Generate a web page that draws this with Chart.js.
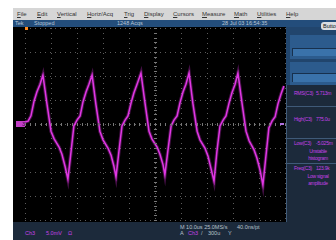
<!DOCTYPE html>
<html>
<head>
<meta charset="utf-8">
<script src="https://cdn.jsdelivr.net/npm/chart.js@4"></script>
<style>
  body { margin: 0; width: 336px; height: 240px; background: #fff; position: relative; overflow: hidden;
         font-family: "Liberation Sans", Arial, sans-serif; }
  .abs { position: absolute; white-space: nowrap; }
  #menu { left: 13px; top: 8px; width: 323px; height: 12px; background: #d6d6d6; }
  #menu span { position: absolute; top: 3px; font-size: 6px; color: #333; }
  #status { left: 13px; top: 20px; width: 323px; height: 7px; background: #234d7b; }
  #status span { position: absolute; top: 0px; font-size: 5.5px; line-height: 7px; color: #b8c6d6; }
  #screen { left: 13px; top: 27px; width: 273px; height: 195px; background: #000; }
  #side { left: 286px; top: 27px; width: 50px; height: 195px; background: #1c2a3b; }
  #bottom { left: 13px; top: 222px; width: 323px; height: 18px; background: #1c2a3b; }
  .mz { color: #c541e6; font-size: 5.5px; }
  .wt { color: #b8c2cc; font-size: 5.5px; }
  #meas .mz { font-size: 5px; letter-spacing: -0.25px; }
</style>
</head>
<body>
<script>
// Ch3 trace: time in us (10 us/div), level in mV (5 mV/div)
const timeUs = [
  0.0, 1.2, 2.3, 3.5, 4.6, 5.8, 6.9, 8.5, 10.0, 11.2, 13.1, 14.2, 15.4, 16.5,
  17.7, 18.8, 20.0, 21.2, 22.3, 23.5, 24.6, 25.8, 27.3, 28.8, 30.0, 31.9, 33.1, 34.2, 35.0,
  36.2, 37.3, 38.5, 39.6, 40.8, 41.9, 43.1, 44.6, 46.2, 47.7, 48.8, 50.8, 51.9, 53.1, 53.8,
  55.0, 56.2, 57.3, 58.5, 59.6, 60.8, 61.9, 63.1, 64.6, 66.2, 67.3, 69.2, 70.4, 71.5, 72.7,
  73.8, 75.0, 76.2, 77.3, 78.5, 79.6, 80.8, 81.9, 83.5, 85.0, 86.2, 88.1, 89.2, 90.4, 91.5,
  92.7, 93.8, 95.0, 96.2, 97.3, 98.5, 99.6
];
const ch3mV = [
  0.4, 0.6, 1.7, 4.8, 6.7, 8.3, 10.2, 4.0, -1.5, -3.1, -4.8, -6.3, -8.8, -11.5,
  -5.8, -0.4, 0.8, 1.7, 4.6, 6.7, 8.3, 10.2, 4.0, -1.5, -3.3, -5.0, -6.5, -8.8, -11.0,
  -5.4, -0.4, 0.8, 1.7, 4.4, 6.5, 8.3, 10.6, 4.2, -1.5, -3.1, -4.8, -6.3, -8.5, -10.6,
  -5.4, -0.4, 0.8, 1.7, 4.4, 6.7, 8.3, 10.6, 4.2, -1.5, -3.3, -5.0, -6.7, -9.2, -11.9,
  -5.8, -0.4, 0.8, 1.7, 4.4, 6.5, 8.3, 10.6, 4.2, -1.5, -3.5, -5.4, -7.1, -9.6, -12.7,
  -6.5, -0.8, 0.6, 1.5, 4.2, 6.3, 7.9
];
const menuItems = ["File", "Edit", "Vertical", "Horiz/Acq", "Trig", "Display", "Cursors", "Measure", "Math", "Utilities", "Help"];
const menuX = [17, 37, 57, 87, 124, 144, 173, 202, 234, 257, 286];
const measLabels = ["RMS(C3)", "High(C3)", "Low(C3)", "Freq(C3)"];
const measValues = ["5.713m", "775.0u", "-5.025m", "123.9k"];

const X_DIV = 10, Y_DIV = 5;
</script>

<div id="menu" class="abs"></div>
<div id="status" class="abs">
  <span style="left:2px">Tek</span>
  <span style="left:21px">Stopped</span>
  <span style="left:104px">1248 Acqs</span>
  <span style="left:209px">28 Jul 03 16:54:35</span>
</div>
<div id="screen" class="abs"><canvas id="scope" width="273" height="195"></canvas></div>
<div id="side" class="abs">
  <div class="abs" style="left:0;top:0;width:50px;height:58px;background:#21456d"></div>
  <div class="abs" style="left:4px;top:8px;width:46px;height:24px;background:#2c5b8d"></div>
  <div class="abs" style="left:6px;top:21px;width:44px;height:8px;background:#3a72aa;box-shadow:inset 1px 1px 0 #17304d"></div>
  <div class="abs" style="left:4px;top:35px;width:46px;height:23px;background:#2c5b8d"></div>
  <div class="abs" style="left:6px;top:46px;width:44px;height:9px;background:#3a72aa;box-shadow:inset 1px 1px 0 #17304d"></div>
  <div class="abs" style="left:0;top:58px;width:1px;height:137px;background:#3f5a78"></div>
  <div class="abs" style="left:0;top:79px;width:50px;height:1px;background:#3f5a78"></div>
  <div class="abs" style="left:0;top:111px;width:50px;height:1px;background:#3f5a78"></div>
  <div class="abs" style="left:0;top:136px;width:50px;height:1px;background:#3f5a78"></div>
  <div id="meas"></div>
</div>
<div class="abs" style="left:321px;top:22px;width:20px;height:8px;border-radius:3px;background:#d9dde2;font-size:5.5px;line-height:8px;color:#111;padding-left:2px">Butto</div>
<div id="bottom" class="abs">
  <span class="abs mz" style="left:12px;top:8px">Ch3</span>
  <span class="abs mz" style="left:33px;top:8px">5.0mV</span>
  <span class="abs mz" style="left:55px;top:8px">&#937;</span>
  <span class="abs wt" style="left:167px;top:2px">M 10.0us 25.0MS/s</span>
  <span class="abs wt" style="left:224px;top:2px">40.0ns/pt</span>
  <span class="abs wt" style="left:167px;top:8px">A</span>
  <span class="abs mz" style="left:175px;top:8px">Ch3</span>
  <span class="abs wt" style="left:188px;top:8px">/</span>
  <span class="abs wt" style="left:195px;top:8px">300u</span>
  <span class="abs wt" style="left:215px;top:8px">Y</span>
</div>
<div class="abs" style="left:25px;top:27px;width:3px;height:3px;background:#ff8a20"></div>
<div class="abs" style="left:16px;top:121px;width:9px;height:6px;background:#c23ec6;font-size:5px;line-height:6px;color:#300030;text-align:right">3</div>
<div class="abs" style="left:280px;top:123px;width:4px;height:2px;background:#b070e0"></div>

<script>
// menu bar
const menu = document.getElementById("menu");
menuItems.forEach((name, i) => {
    const s = document.createElement("span");
    s.innerHTML = "<u>" + name[0] + "</u>" + name.slice(1);
    s.style.left = (menuX[i] - 13) + "px";
    menu.appendChild(s);
});

// measurement readouts
const meas = document.getElementById("meas");
const measTop = [63, 89, 113, 138];
const notes = { 2: ["Unstable", "histogram"], 3: ["Low signal", "amplitude"] };
measLabels.forEach((label, i) => {
    meas.insertAdjacentHTML("beforeend",
        `<span class="abs mz" style="left:8px;top:${measTop[i]}px">${label}</span>` +
        `<span class="abs mz" style="left:30px;top:${measTop[i]}px">${measValues[i]}</span>`);
    if (notes[i]) {
        notes[i].forEach((t, k) => {
            meas.insertAdjacentHTML("beforeend",
                `<span class="abs mz" style="left:12px;width:40px;text-align:center;top:${measTop[i] + 8 + k * 7}px">${t}</span>`);
        });
    }
});

// little tick marks along the centre axes of the graticule
const centreTicks = {
    id: "centreTicks",
    afterDraw(chart) {
        const { ctx, scales: { x, y } } = chart;
        ctx.save();
        ctx.strokeStyle = "#777";
        ctx.lineWidth = 1;
        const yc = Math.round(y.getPixelForValue(0)) + 0.5;
        const xc = Math.round(x.getPixelForValue(50)) + 0.5;
        ctx.beginPath();
        for (let v = x.min; v <= x.max; v += X_DIV / 5) {
            const px = Math.round(x.getPixelForValue(v)) + 0.5;
            ctx.moveTo(px, yc - 1.5); ctx.lineTo(px, yc + 1.5);
        }
        for (let v = y.min; v <= y.max; v += Y_DIV / 5) {
            const py = Math.round(y.getPixelForValue(v)) + 0.5;
            ctx.moveTo(xc - 1.5, py); ctx.lineTo(xc + 1.5, py);
        }
        ctx.stroke();
        ctx.restore();
    },
};

const points = timeUs.map((t, i) => ({ x: t, y: ch3mV[i] }));

new Chart(document.getElementById("scope"), {
    type: "line",
    data: {
        datasets: [
            { data: points, borderColor: "rgba(225,50,230,0.3)", borderWidth: 3.5, pointRadius: 0, tension: 0 },
            { data: points, borderColor: "#e03ae4", borderWidth: 1.5, pointRadius: 0, tension: 0 },
        ],
    },
    options: {
        responsive: false,
        animation: false,
        layout: { padding: { left: 12, top: 1, right: 1, bottom: 2 } },
        plugins: { legend: { display: false }, tooltip: { enabled: false } },
        scales: {
            x: {
                type: "linear", min: 0, max: 100,
                ticks: { display: false, stepSize: X_DIV },
                grid: { color: "#5c5c5c", drawTicks: false },
                border: { display: false, dash: [1, 4] },
            },
            y: {
                min: -20, max: 20,
                ticks: { display: false, stepSize: Y_DIV },
                grid: { color: "#5c5c5c", drawTicks: false },
                border: { display: false, dash: [1, 4] },
            },
        },
    },
    plugins: [centreTicks],
});
</script>
</body>
</html>
